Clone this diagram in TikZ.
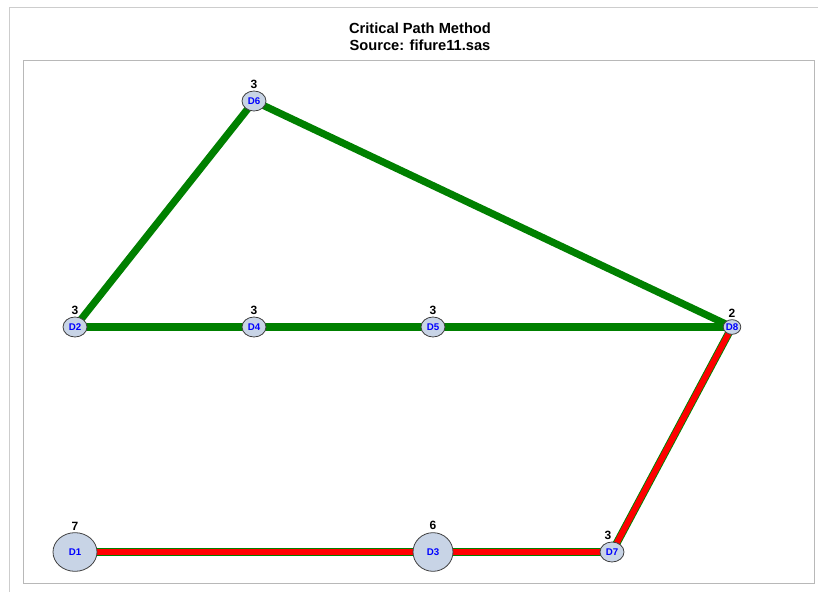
\documentclass[tikz,border=0pt]{standalone}
\usepackage{fontspec}
\setmainfont{Liberation Sans}
\usepackage{xcolor}
\usetikzlibrary{positioning, shapes.geometric, backgrounds}
\definecolor{pathgreen}{RGB}{0,128,0}
\definecolor{nodefill}{RGB}{200,212,230}
\definecolor{framegray}{RGB}{205,205,205}

\begin{document}
\begin{tikzpicture}[x=0.75pt, y=-0.75pt,
    task/.style={ellipse, draw=black!75, fill=nodefill, line width=0.6pt, inner sep=0pt,
        minimum width=18pt, minimum height=15pt, font=\bfseries\fontsize{7.3}{8}\selectfont, text=blue},
    bigtask/.style={task, minimum width=33pt, minimum height=29pt},
    count/.style={font=\bfseries\fontsize{9}{10}\selectfont, inner sep=1pt},
    normal/.style={draw=pathgreen, line width=5.4pt},
    critical/.style={draw=pathgreen, line width=5.8pt},
    criticalcore/.style={draw=red, line width=4.4pt}
]
\useasboundingbox (0,0) rectangle (818,592);

% Frames
\draw[framegray, line width=0.7pt] (9,592) -- (9,7) -- (818,7);
\draw[black!28, line width=0.6pt] (23,60) rectangle (814,583);

% Title
\node[font=\bfseries\fontsize{11}{12.6}\selectfont, align=center] (title) at (420,37)
    {Critical Path Method\\Source: fifure11.sas};

% Tasks
\node[bigtask] (D1) at (75,552) {D1};
\node[task] (D2) at (75,327) {D2};
\node[bigtask, minimum width=30pt, minimum height=29pt] (D3) at (433,552) {D3};
\node[task] (D4) at (254,327) {D4};
\node[task] (D5) at (433,327) {D5};
\node[task] (D6) at (254,101) {D6};
\node[task] (D7) at (612,552) {D7};
\node[task, minimum width=11pt, minimum height=11pt] (D8) at (732,327) {D8};

\begin{scope}[on background layer]
% Normal connections
\foreach \a/\b in {D2/D6, D6/D8, D2/D4, D4/D5, D5/D8}
    \draw[normal] (\a.center) -- (\b.center);

% Critical path
\foreach \a/\b in {D1/D3, D3/D7, D7/D8}
    \draw[critical] (\a.center) -- (\b.center);
\foreach \a/\b in {D1/D3, D3/D7, D7/D8}
    \draw[criticalcore] (\a.center) -- (\b.center);
\end{scope}

% Durations
\node[count, above=0.5pt of D1] (c1) {7};
\node[count, above=0.5pt of D2] (c2) {3};
\node[count, above=0.5pt of D3] (c3) {6};
\node[count, above=0.5pt of D4] (c4) {3};
\node[count, above=0.5pt of D5] (c5) {3};
\node[count, above=0.5pt of D6] (c6) {3};
\node[count, above=0.5pt of D7, xshift=-3pt] (c7) {3};
\node[count, above=0.5pt of D8] (c8) {2};

\end{tikzpicture}
\end{document}
